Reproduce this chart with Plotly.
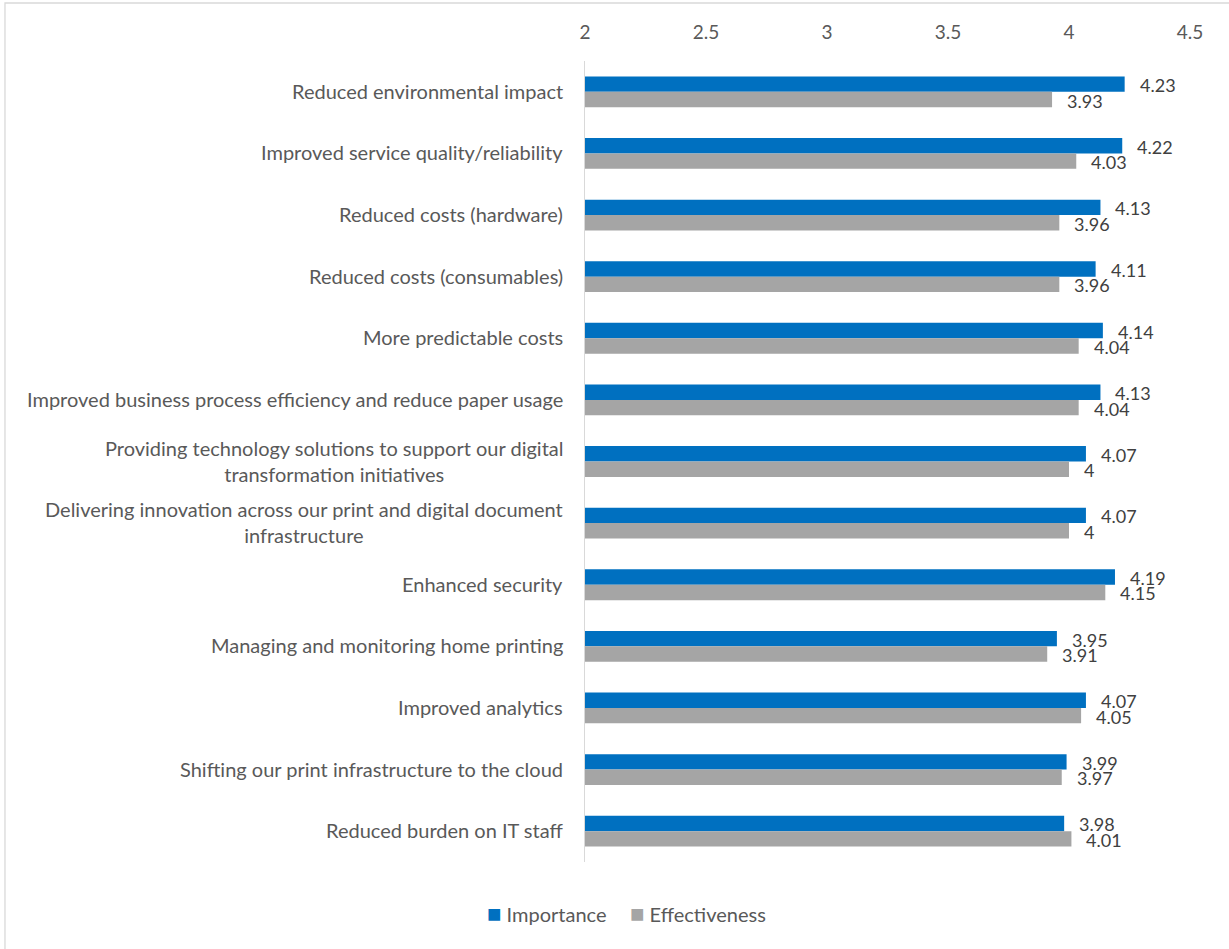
import plotly.graph_objects as go

categories = [
    "Reduced environmental impact",
    "Improved service quality/reliability",
    "Reduced costs (hardware)",
    "Reduced costs (consumables)",
    "More predictable costs",
    "Improved business process efficiency and reduce paper usage",
    "Providing technology solutions to support our digital<br>transformation initiatives",
    "Delivering innovation across our print and digital document<br>infrastructure",
    "Enhanced security",
    "Managing and monitoring home printing",
    "Improved analytics",
    "Shifting our print infrastructure to the cloud",
    "Reduced burden on IT staff",
]
importance = [4.23, 4.22, 4.13, 4.11, 4.14, 4.13, 4.07, 4.07, 4.19, 3.95, 4.07, 3.99, 3.98]
effectiveness = [3.93, 4.03, 3.96, 3.96, 4.04, 4.04, 4.00, 4.00, 4.15, 3.91, 4.05, 3.97, 4.01]
series_names = ["Importance", "Effectiveness"]
series_colors = ["#0070C0", "#A5A5A5"]
tick_values = [2, 2.5, 3, 3.5, 4, 4.5]
tick_labels = ["2", "2.5", "3", "3.5", "4", "4.5"]

FONT = "Lato"
TEXT_GREY = "#595959"
LABEL_GREY = "#404040"
LINE_GREY = "#D9D9D9"

BAR_W = 0.25
ids = list(range(len(categories)))

fig = go.Figure()
for name, vals, color, off in zip(series_names, [importance, effectiveness],
                                   series_colors, [-BAR_W, 0.0]):
    fig.add_trace(go.Bar(
        name=name, y=ids, x=vals, orientation="h",
        width=BAR_W, offset=off,
        marker=dict(color=color, line=dict(width=0)),
        showlegend=False,
    ))
    # value labels just past the end of each bar
    for i, v in enumerate(vals):
        fig.add_annotation(
            x=v, xref="x", y=i + off + BAR_W / 2, yref="y",
            text=f"{v:g}", showarrow=False, xanchor="left", yanchor="middle",
            xshift=14, yshift=-1, borderpad=0,
            font=dict(family=FONT, size=18, color=LABEL_GREY),
        )

# Category labels as annotations so wrapped lines stay centred
for i, c in enumerate(categories):
    fig.add_annotation(
        x=0, xref="paper", y=i, yref="y", text=c, showarrow=False,
        xanchor="right", yanchor="middle", align="center", xshift=-20, yshift=1,
        font=dict(family=FONT, size=20, color=TEXT_GREY),
    )

# Legend row under the plot
legend_x = [-0.1653, 0.0710]
for name, color, lx in zip(series_names, series_colors, legend_x):
    fig.add_annotation(
        x=lx, xref="paper", y=-0.0625, yref="paper", showarrow=False,
        xanchor="left", yanchor="middle",
        text=f'<span style="color:{color};font-size:24px">■</span> {name}',
        font=dict(family=FONT, size=20, color=TEXT_GREY),
    )

# Outer chart frame
fig.add_shape(type="rect", xref="paper", yref="paper",
              x0=-0.9587, x1=1.08, y0=-0.12, y1=1.0724,
              line=dict(color=LINE_GREY, width=1.3), layer="below")

fig.update_layout(
    width=1229, height=949,
    margin=dict(l=585, r=39, t=61, b=87),
    paper_bgcolor="white", plot_bgcolor="white",
    barmode="overlay",
    font=dict(family=FONT, size=18, color=TEXT_GREY),
    xaxis=dict(range=[2, 4.5], side="top", tickvals=tick_values, ticktext=tick_labels,
               showgrid=False, zeroline=False, showline=False, ticks="",
               tickfont=dict(family=FONT, size=19, color=TEXT_GREY), ticklabelstandoff=17),
    yaxis=dict(range=[12.5, -0.5], showticklabels=False, showgrid=False, zeroline=False,
               showline=True, linecolor=LINE_GREY, linewidth=1.3, ticks=""),
    showlegend=False,
)

fig.write_html("out.html")
